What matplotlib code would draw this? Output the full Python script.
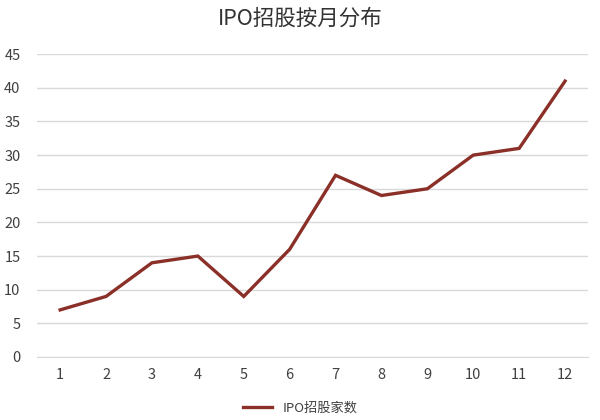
import matplotlib
matplotlib.use("Agg")
import matplotlib.pyplot as plt

plt.rcParams['font.family'] = ['Noto Sans CJK SC', 'DejaVu Sans']

months = list(range(1, 13))
month_labels = [str(m) for m in months]
ipo_counts = [7, 9, 14, 15, 9, 16, 27, 24, 25, 30, 31, 41]
yticks = list(range(0, 50, 5))

fig = plt.figure(figsize=(6, 4.2), dpi=100)
ax = fig.add_axes([0.062, 0.15, 0.918, 0.721])

line_color = '#8B3028'
ax.plot(months, ipo_counts, color=line_color, linewidth=2.4, label='IPO招股家数',
        solid_joinstyle='miter')

ax.set_xlim(0.5, 12.5)
ax.set_ylim(0, 45)
ax.set_yticks(yticks)
ax.set_xticks(months)
ax.set_xticklabels(month_labels)
ax.grid(axis='y', color='#D9D9D9', linewidth=1)
ax.set_axisbelow(True)
for s in ['top', 'right', 'left']:
    ax.spines[s].set_visible(False)
ax.spines['bottom'].set_color('#D9D9D9')
ax.tick_params(axis='both', length=0, labelsize=10.5, colors='#404040', pad=8)
ax.tick_params(axis='y', pad=12)

fig.text(0.5, 0.955, 'IPO招股按月分布', ha='center', va='center', fontsize=15.5,
         color='#333333', fontweight='medium')

fig.legend(loc='center', bbox_to_anchor=(0.5, 0.028), frameon=False, fontsize=9.5,
           handlelength=2.2, labelcolor='#404040')

fig.savefig('out.png', dpi=100, facecolor='white')
